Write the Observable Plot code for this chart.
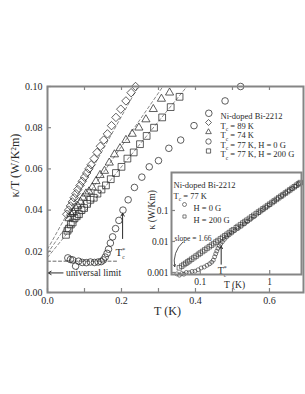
<!DOCTYPE html>
<html><head><meta charset="utf-8">
<script src="https://cdn.jsdelivr.net/npm/d3@7"></script>
<script src="https://cdn.jsdelivr.net/npm/@observablehq/plot@0.6"></script>
<style>
body{margin:0;background:#fff;}
#wrap{position:relative;width:305px;height:394px;}
#wrap svg{position:absolute;left:0;top:0;}
</style></head><body><div id="wrap"></div>
<script>
// ---------- main panel data: kappa/T (W/K^2 m) vs T (K) ----------
const d89T = [0.052,0.057,0.062,0.067,0.072,0.077,0.082,0.088,0.094,0.100,0.106,0.112,0.118,0.126,0.134,0.143,0.152,0.162,0.173,0.185,0.198,0.212,0.226,0.238];
const d89K = [0.038,0.040,0.042,0.044,0.046,0.048,0.050,0.052,0.054,0.056,0.058,0.060,0.062,0.065,0.068,0.071,0.074,0.077,0.081,0.085,0.089,0.093,0.097,0.100];
const d74T = [0.058,0.064,0.070,0.076,0.082,0.089,0.096,0.104,0.112,0.121,0.131,0.142,0.154,0.167,0.181,0.196,0.212,0.229,0.247,0.266,0.286,0.308,0.330];
const d74K = [0.036,0.038,0.039,0.041,0.042,0.044,0.046,0.048,0.049,0.051,0.054,0.057,0.059,0.063,0.067,0.070,0.074,0.077,0.080,0.084,0.089,0.094,0.097];
const h200T = [0.050,0.054,0.058,0.063,0.068,0.073,0.079,0.085,0.092,0.099,0.107,0.116,0.125,0.135,0.146,0.158,0.171,0.185,0.200,0.216,0.233,0.250,0.268,0.288,0.310,0.333,0.357];
const h200K = [0.028,0.030,0.031,0.033,0.034,0.036,0.037,0.038,0.040,0.041,0.043,0.045,0.046,0.048,0.050,0.052,0.055,0.058,0.061,0.065,0.068,0.072,0.076,0.080,0.085,0.090,0.095];
const h0T = [0.055,0.062,0.068,0.076,0.084,0.094,0.105,0.116,0.127,0.137,0.145,0.151,0.156,0.161,0.165,0.170,0.176,0.184,0.193,0.204,0.218,0.235,0.255,0.275,0.300,0.328,0.360,0.396,0.436,0.480,0.522];
const h0K = [0.0168,0.0160,0.0158,0.0128,0.0152,0.0146,0.0145,0.0148,0.0146,0.0148,0.0150,0.0158,0.0172,0.0190,0.0210,0.0240,0.0270,0.0310,0.0350,0.0400,0.0450,0.0510,0.0560,0.0610,0.0640,0.0700,0.0740,0.0810,0.0870,0.0930,0.1000];
// dashed linear fits (T, kappa/T end points)
const fit89T = [0, 0.245], fit89K = [0.021, 0.100];
const fit74T = [0, 0.312], fit74K = [0.019, 0.100];
const fit200T = [0, 0.377], fit200K = [0.017, 0.100];
const limitT = [0, 0.19], limitK = [0.0152, 0.0152];
const limitArrowT = [0.042, 0.002], limitArrowK = 0.0095;
const tcArrowT = 0.203, tcArrowK = [0.0262, 0.0385];
const tcLabelT = 0.184, tcLabelK = 0.0195;
const mainXTicks = [0, 0.1, 0.2, 0.3, 0.4, 0.5, 0.6];
const mainXLabels = [0, 0.2, 0.4, 0.6];
const mainYTicks = [0, 0.02, 0.04, 0.06, 0.08, 0.10];
const legendTitle = "Ni-doped Bi-2212";
const legendLabels = ["T_c = 89 K", "T_c = 74 K", "T_c = 77 K, H = 0 G", "T_c = 77 K, H = 200 G"];
const legendSymbols = ["diamond2", "triangle2", "circle", "square2"];

// ---------- inset data: kappa (W/K m) vs T (K), log-log ----------
const inSqT = [0.050,0.054,0.058,0.062,0.066,0.070,0.075,0.081,0.087,0.094,0.100,0.108,0.116,0.125,0.135,0.145,0.156,0.168,0.180,0.195,0.210,0.226,0.243,0.262,0.282,0.300,0.330,0.350,0.380,0.410,0.440,0.470,0.510,0.550,0.590,0.640,0.690,0.740,0.800,0.860,0.930,1.00,1.08,1.16,1.25,1.35,1.45,1.56,1.68,1.81,1.95,2.10,2.26,2.43,2.60,2.75];
const inSqK = [0.00141,0.00160,0.00180,0.00198,0.00219,0.00240,0.00268,0.00302,0.00338,0.00382,0.00422,0.00476,0.00533,0.00600,0.00677,0.00758,0.00851,0.00957,0.0107,0.0121,0.0136,0.0153,0.0171,0.0193,0.0217,0.0239,0.0278,0.0305,0.0348,0.0392,0.0438,0.0486,0.0553,0.0623,0.0696,0.0792,0.0892,0.0996,0.113,0.126,0.143,0.160,0.181,0.203,0.228,0.258,0.288,0.324,0.364,0.409,0.461,0.518,0.581,0.652,0.725,0.792];
const inCiT = [0.046,0.050,0.054,0.058,0.063,0.069,0.076,0.084,0.093,0.103,0.114,0.125,0.136,0.146,0.154,0.161,0.167,0.173,0.180,0.188,0.197,0.208,0.222,0.240,0.260,0.285,0.315,0.350,0.390,0.435,0.480,0.530,0.60,0.70,0.80,0.90,1.00,1.15,1.30,1.50,1.70,1.90,2.10,2.35,2.60];
const inCiK = [0.00090,0.00082,0.00092,0.00088,0.00100,0.00098,0.00108,0.00110,0.00122,0.00140,0.00150,0.00170,0.00190,0.00215,0.00250,0.00320,0.00400,0.00490,0.00600,0.00720,0.00840,0.0098,0.0117,0.0140,0.0162,0.0188,0.0225,0.0262,0.0310,0.0370,0.0440,0.0520,0.0640,0.0850,0.107,0.130,0.155,0.195,0.240,0.300,0.370,0.440,0.510,0.600,0.710];
const slopeArrowT = [0.0560, 0.0428], slopeArrowK = [0.0095, 0.00155];
const inTcArrowT = 0.20, inTcArrowK = [0.00185, 0.0070];
const inTcLabelT = 0.178, inTcLabelK = 0.00112;
const insetXTicks = [0.1, 1];
const insetYTicks = [0.001, 0.01, 0.1];
const insetTitle = ["Ni-doped Bi-2212", "T_c = 77 K"];
const insetLegend = ["H = 0 G", "H = 200 G"];
const insetSymbols = ["circle", "square2"];
const slopeText = "slope = 1.66";

// ---------- drawing ----------
const F = "'Liberation Serif', 'Times New Roman', serif";
const GRAY = "#858585";
const INK = "#2a2a2a";
const W = 305, H = 394;
const mT = 86, mB = 102, mL = 47, mR = 2;
const plotH = H - mT - mB, plotW = W - mL - mR;
const zip = (a, b) => a.map((v, i) => ({x: v, y: b[i]}));
const dash = {stroke: "#6a6a6a", strokeWidth: 0.8, strokeDasharray: "3,2.5"};

const main = Plot.plot({
  width: W, height: H,
  marginLeft: mL, marginRight: mR, marginTop: mT, marginBottom: mB,
  x: {domain: [0, 0.692]},
  y: {domain: [0, 0.1]},
  style: {fontFamily: F, background: "white", overflow: "visible", color: INK},
  marks: [
    Plot.line(zip(fit89T, fit89K), {x: "x", y: "y", ...dash}),
    Plot.line(zip(fit74T, fit74K), {x: "x", y: "y", ...dash}),
    Plot.line(zip(fit200T, fit200K), {x: "x", y: "y", ...dash}),
    Plot.line(zip(limitT, limitK), {x: "x", y: "y", ...dash, stroke: "#444"}),
    Plot.dot(zip(d89T, d89K), {x: "x", y: "y", symbol: "diamond2", r: 3.8, stroke: INK, strokeWidth: 0.75}),
    Plot.dot(zip(d74T, d74K), {x: "x", y: "y", symbol: "triangle2", r: 3.9, stroke: INK, strokeWidth: 0.75}),
    Plot.dot(zip(h200T, h200K), {x: "x", y: "y", symbol: "square2", r: 4.3, stroke: INK, strokeWidth: 0.75}),
    Plot.dot(zip(h0T, h0K), {x: "x", y: "y", symbol: "circle", r: 3.3, stroke: INK, strokeWidth: 0.75}),
    Plot.arrow([0], {x1: () => limitArrowT[0], x2: () => limitArrowT[1], y1: () => limitArrowK, y2: () => limitArrowK, stroke: INK, strokeWidth: 1, headLength: 5}),
    Plot.text([0], {x: () => 0.05, y: () => limitArrowK, text: () => "universal limit", textAnchor: "start", fontSize: 9.5, fill: INK}),
    Plot.arrow([0], {x1: () => tcArrowT, x2: () => tcArrowT, y1: () => tcArrowK[0], y2: () => tcArrowK[1], stroke: INK, strokeWidth: 1, headLength: 5}),
    Plot.text([0], {x: () => tcLabelT, y: () => tcLabelK, text: () => "T_c*", textAnchor: "start", fontSize: 11, fill: INK}),
    Plot.text([legendTitle], {frameAnchor: "top-left", dx: 173, dy: 26, textAnchor: "start", fontSize: 8.5, fill: INK}),
    ...legendLabels.map((l, i) => Plot.text([l], {frameAnchor: "top-left", dx: 173, dy: 36 + 9.5 * i, textAnchor: "start", fontSize: 8.5, fill: INK})),
    ...legendSymbols.map((s, i) => Plot.dot([0], {frameAnchor: "top-left", dx: 161, dy: 36 + 9.5 * i, symbol: s, r: 2.7, stroke: INK, strokeWidth: 0.7})),
    Plot.tickX(mainXTicks, {x: d => d, insetTop: plotH - 4, stroke: GRAY, strokeWidth: 1.2}),
    Plot.tickX(mainXTicks, {x: d => d, insetBottom: plotH - 4, stroke: GRAY, strokeWidth: 1.2}),
    Plot.tickY(mainYTicks, {y: d => d, insetRight: plotW - 4, stroke: GRAY, strokeWidth: 1.2}),
    Plot.axisX(mainXLabels, {tickSize: 0, tickPadding: 4, fontSize: 10, tickFormat: d3.format(".1f"), label: null}),
    Plot.axisY(mainYTicks, {tickSize: 0, tickPadding: 5, fontSize: 10, tickFormat: d3.format(".2f"), label: null}),
    Plot.text(["T (K)"], {frameAnchor: "bottom", dy: 22, dx: -8, fontSize: 12, fill: INK}),
    Plot.text(["κ/T (W/K²m)"], {frameAnchor: "left", dx: -32, dy: 8, rotate: -90, fontSize: 12, fill: INK}),
    Plot.frame({stroke: GRAY, strokeWidth: 2})
  ]
});

const iT = 172, iB = 274, iL = 171, iR = 301;
const inH = iB - iT, inW = iR - iL;
const inset = Plot.plot({
  width: W, height: H,
  marginLeft: iL, marginRight: W - iR, marginTop: iT, marginBottom: H - iB,
  x: {type: "log", domain: [0.0385, 2.87]},
  y: {type: "log", domain: [0.00086, 1.68]},
  style: {fontFamily: F, background: "none", overflow: "visible", color: INK},
  marks: [
    Plot.frame({fill: "white", stroke: "none"}),
    Plot.dot(zip(inSqT, inSqK), {x: "x", y: "y", symbol: "square2", r: 2.9, stroke: INK, strokeWidth: 0.6}),
    Plot.dot(zip(inCiT, inCiK), {x: "x", y: "y", symbol: "circle", r: 2.0, stroke: INK, strokeWidth: 0.6}),
    Plot.arrow([0], {x1: () => slopeArrowT[0], x2: () => slopeArrowT[1], y1: () => slopeArrowK[0], y2: () => slopeArrowK[1], bend: -30, stroke: INK, strokeWidth: 0.8, headLength: 4}),
    Plot.arrow([0], {x1: () => inTcArrowT, x2: () => inTcArrowT, y1: () => inTcArrowK[0], y2: () => inTcArrowK[1], stroke: INK, strokeWidth: 1, headLength: 4}),
    Plot.text([0], {x: () => inTcLabelT, y: () => inTcLabelK, text: () => "T_c*", textAnchor: "start", fontSize: 10, fill: INK}),
    ...insetTitle.map((l, i) => Plot.text([l], {frameAnchor: "top-left", dx: 2, dy: 9 + 11 * i, textAnchor: "start", fontSize: 8.5, fill: INK})),
    ...insetLegend.map((l, i) => Plot.text([l], {frameAnchor: "top-left", dx: 22, dy: 32 + 12 * i, textAnchor: "start", fontSize: 8.5, fill: INK})),
    ...insetSymbols.map((s, i) => Plot.dot([0], {frameAnchor: "top-left", dx: 13, dy: 32 + 12 * i, symbol: s, r: 2.0, stroke: INK, strokeWidth: 0.6})),
    Plot.text([slopeText], {frameAnchor: "top-left", dx: 3, dy: 63, textAnchor: "start", fontSize: 7.5, fill: INK}),
    Plot.tickX(insetXTicks, {x: d => d, insetTop: inH - 4, stroke: GRAY, strokeWidth: 1.2}),
    Plot.tickY(insetYTicks, {y: d => d, insetRight: inW - 4, stroke: GRAY, strokeWidth: 1.2}),
    Plot.axisX(insetXTicks, {tickSize: 0, tickPadding: 4, fontSize: 9.5, tickFormat: d3.format("~g"), label: null}),
    Plot.axisY(insetYTicks, {tickSize: 0, tickPadding: 3, fontSize: 9.5, tickFormat: d3.format("~g"), label: null}),
    Plot.text(["T (K)"], {frameAnchor: "bottom", dx: -2, dy: 13, fontSize: 9.5, fill: INK}),
    Plot.text(["κ (W/Km)"], {frameAnchor: "left", dx: -20, dy: 6, rotate: -90, fontSize: 9.5, fill: INK}),
    Plot.frame({stroke: GRAY, strokeWidth: 2})
  ]
});

// render T_c subscripts / superscripts as real text with tspans
function subscripts(svg) {
  const ns = "http://www.w3.org/2000/svg";
  svg.querySelectorAll("text").forEach(t => {
    const s = t.textContent;
    if (!s.includes("_c")) return;
    const [pre, post] = s.split("_c");
    const fs = parseFloat(t.getAttribute("font-size") || getComputedStyle(t).fontSize) || 9;
    t.textContent = "";
    const add = (txt, attrs) => { const e = document.createElementNS(ns, "tspan"); e.textContent = txt; for (const k in attrs) e.setAttribute(k, attrs[k]); t.appendChild(e); return e; };
    add(pre, {});
    if (post.startsWith("*")) {
      add("c", {dy: fs * 0.35, "font-size": fs * 0.6});
      add("*", {dy: -fs * 0.8, dx: -fs * 0.3, "font-size": fs * 0.75});
      if (post.length > 1) add(post.slice(1), {dy: fs * 0.45});
    } else {
      add("c", {dy: fs * 0.3, "font-size": fs * 0.6});
      add(post, {dy: -fs * 0.3});
    }
  });
}
subscripts(main); subscripts(inset);
const wrap = document.getElementById("wrap");
wrap.appendChild(main);
wrap.appendChild(inset);
</script></body></html>
